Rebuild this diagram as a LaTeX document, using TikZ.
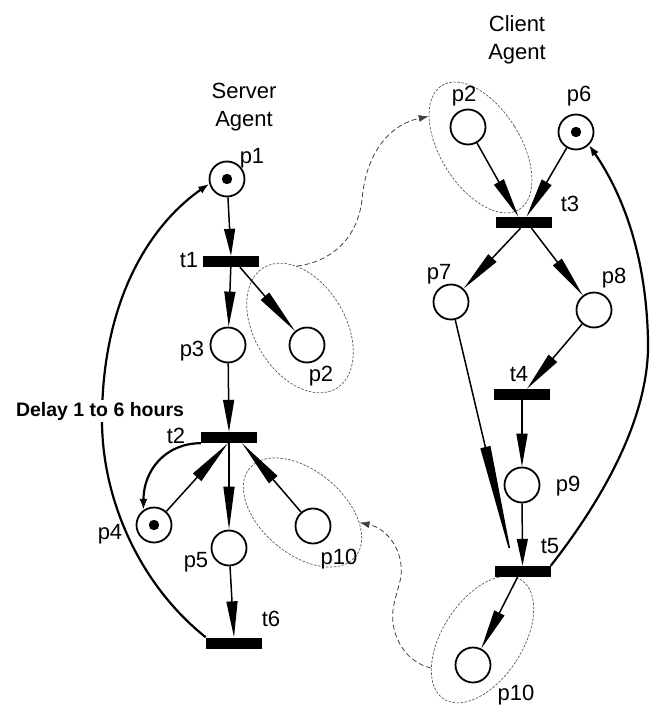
\documentclass[tikz,border=0pt]{standalone}
\usepackage{fontspec}
\setmainfont{Liberation Sans}
\usetikzlibrary{arrows.meta,shapes.geometric,calc}
\begin{document}
\begin{tikzpicture}[x=1pt,y=-1pt,
  place/.style={circle,draw,line width=1.8pt,minimum size=35pt,inner sep=0pt,fill=white},
  marked/.style={path picture={\fill[black] (path picture bounding box.center) circle (5.2pt);}},
  trans/.style={rectangle,fill=black,minimum width=56pt,minimum height=11pt,inner sep=0pt},
  lbl/.style={anchor=base,inner sep=0pt,font=\fontsize{22}{26}\selectfont},
  grp/.style={ellipse,draw=black!65,dash pattern=on 2.5pt off 1.5pt,line width=0.7pt,inner sep=0pt},
  parc/.style={line width=1.5pt,-{Triangle[length=#1,width=11pt]}},
  parc/.default=36pt,
  bigarc/.style={line width=2.2pt,-{Latex[length=11pt,width=8pt]}},
  dlink/.style={black!75,line width=0.8pt,dash pattern=on 5pt off 3pt,-{Latex[length=10pt,width=7pt]}},
]
\useasboundingbox (0,0) rectangle (653,707);

% groups
\node[grp,minimum width=91pt,minimum height=141pt,rotate=31] (e1) at (300,328) {};
\node[grp,minimum width=80pt,minimum height=146pt,rotate=32] (e2) at (480.5,147.5) {};
\node[grp,minimum width=83pt,minimum height=138pt,rotate=50] (e3) at (302.5,512.5) {};
\node[grp,minimum width=80pt,minimum height=142pt,rotate=-33] (e4) at (482.5,639.5) {};

% server agent
\node[place,marked] (p1) at (227,179) {};
\node[trans] (t1) at (231,261.5) {};
\node[place] (p3) at (228,345) {};
\node[place] (p2s) at (307,345) {};
\node[trans] (t2) at (229,437.5) {};
\node[place,marked] (p4) at (154,525) {};
\node[place] (p5) at (229,548) {};
\node[place] (p10s) at (313,526) {};
\node[trans] (t6) at (234,643) {};

% client agent
\node[place] (p2c) at (468,127) {};
\node[place,marked] (p6) at (576,132) {};
\node[trans] (t3) at (523.5,222.5) {};
\node[place] (p7) at (451,302) {};
\node[place] (p8) at (594,310) {};
\node[trans] (t4) at (522,394.5) {};
\node[place] (p9) at (522,485) {};
\node[trans] (t5) at (522.5,571.5) {};
\node[place] (p10c) at (473,665) {};

% labels
\node[lbl] (hs1) at (244,98) {Server};
\node[lbl] (hs2) at (244,126) {Agent};
\node[lbl] (hc1) at (517,31) {Client};
\node[lbl] (hc2) at (517,59) {Agent};
\node[lbl] (lp1) at (252,163) {p1};
\node[lbl] (lt1) at (189,267) {t1};
\node[lbl] (lp3) at (192,356) {p3};
\node[lbl] (lp2s) at (321,381) {p2};
\node[lbl] (lt2) at (176,443) {t2};
\node[lbl] (lp4) at (110,539) {p4};
\node[lbl] (lp5) at (196,567) {p5};
\node[lbl] (lp10s) at (339,564) {p10};
\node[lbl] (lt6) at (271,626) {t6};
\node[lbl] (lp2c) at (464,101) {p2};
\node[lbl] (lp6) at (579,101) {p6};
\node[lbl] (lt3) at (570,211) {t3};
\node[lbl] (lp7) at (439,279) {p7};
\node[lbl] (lp8) at (614,283) {p8};
\node[lbl] (lt4) at (519,381) {t4};
\node[lbl] (lp9) at (568,491) {p9};
\node[lbl] (lt5) at (550,553) {t5};
\node[lbl] (lp10c) at (516,700) {p10};

% server arcs
\draw[parc=27pt] (p1) -- (t1.north);
\draw[parc=35pt] (t1) -- (p3);
\draw[parc=46pt] ([xshift=9pt]t1.south) -- (p2s);
\draw[parc=32pt] (p3) -- (t2.north);
\draw[parc=43pt] (t2) -- (p5);
\draw[parc=36pt] (p5) -- (t6.north);
\draw[parc=46pt] (p4) -- ([xshift=-1pt]t2.south);
\draw[parc=48pt] (p10s) -- ([xshift=13pt]t2.south);
\draw[bigarc] (t2.south west) .. controls +(-35,0) and +(0,-40) .. (p4.125);
\draw[bigarc] (t6.north west) .. controls (140,585) and (102,500) .. (102,420)
  .. controls (102,300) and (150,225) .. (p1.195);

% delay label over the arc
\node[lbl,fill=white,inner sep=2pt,font=\bfseries\fontsize{19.5}{23}\selectfont] (ldelay) at (100,416) {Delay 1 to 6 hours};

% client arcs
\draw[parc=40pt] (p2c) -- ([xshift=-5pt]t3.north);
\draw[parc=40pt] (p6) -- ([xshift=3pt]t3.north);
\draw[parc=42pt] ([xshift=-3pt]t3.south) -- (p7);
\draw[parc=42pt] ([xshift=8pt]t3.south) -- (p8);
\draw[parc=40pt] (p8) -- ([xshift=5pt]t4.north);
\draw[parc=33pt] (t4) -- (p9);
\draw[parc=27pt] (p9) -- (t5.north);
\draw[line width=1.5pt,-{Triangle[length=122pt,width=10pt]}] (p7) -- ([xshift=-9pt]t5.north);
\draw[parc=40pt] ([xshift=-5pt]t5.south) -- (p10c);
\draw[bigarc] (t5.north east) .. controls (610,490) and (650,410) .. (648,340)
  .. controls (646,250) and (620,190) .. (p6.315);

% message links
\draw[dlink] (e1.62) .. controls (330,262) and (357,240) .. (362,200)
  .. controls (366,150) and (392,124) .. (e2.117);
\draw[dlink] (e4.242) .. controls (405,662) and (390,635) .. (393,610)
  .. controls (396,590) and (403,580) .. (401,565)
  .. controls (399,545) and (385,528) .. (e3.300);
\end{tikzpicture}
\end{document}
